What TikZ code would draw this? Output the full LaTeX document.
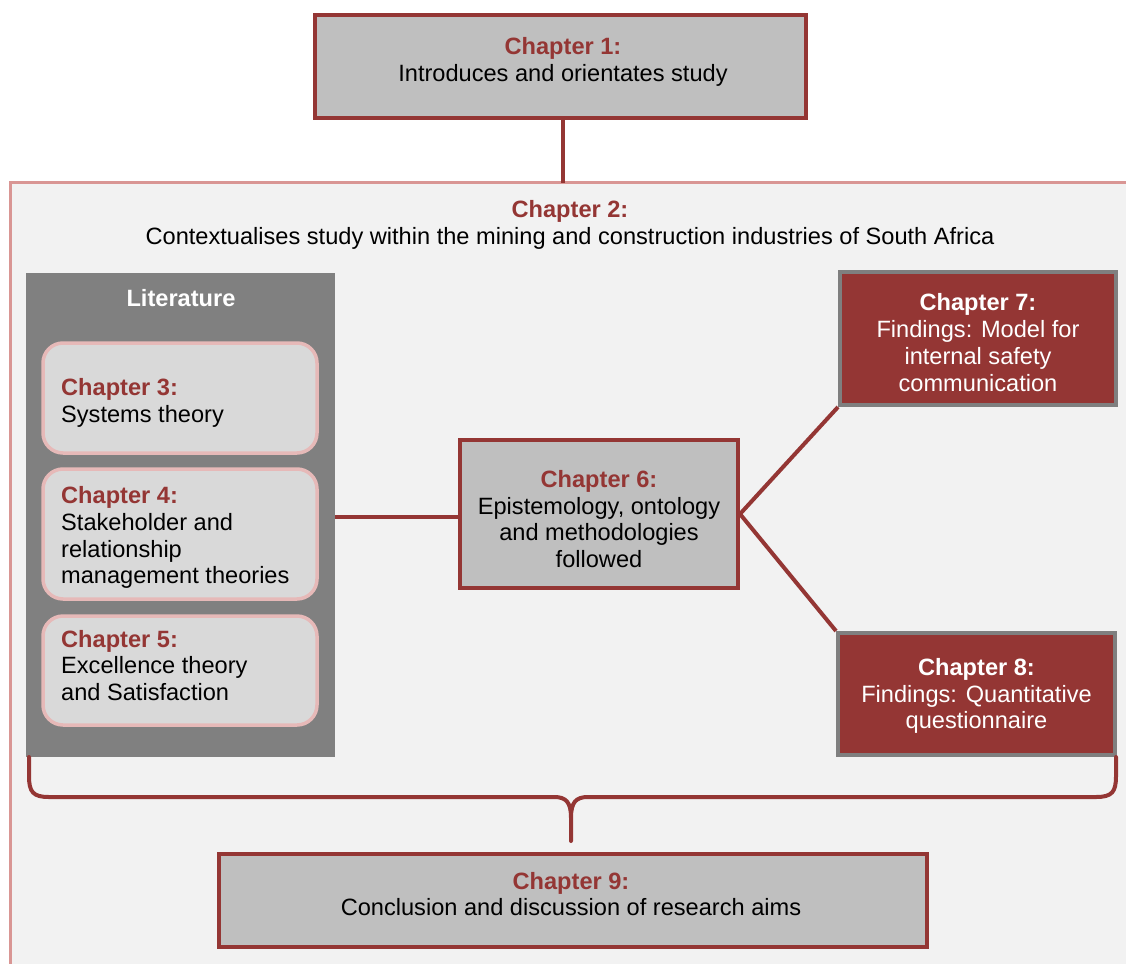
\documentclass[tikz,border=0pt]{standalone}
\usepackage{fontspec}
\setmainfont{Liberation Sans}
\begin{document}
\definecolor{chred}{HTML}{943634}
\definecolor{ctxpink}{HTML}{D99694}
\definecolor{litpink}{HTML}{E6B9B8}
\definecolor{boxgrey}{HTML}{BFBFBF}
\definecolor{lightgrey}{HTML}{D9D9D9}
\definecolor{ctxfill}{HTML}{F2F2F2}
\definecolor{litgrey}{HTML}{808080}
\definecolor{edgegrey}{HTML}{7F7F7F}
\begin{tikzpicture}[x=1pt,y=-1pt,
  every node/.style={font=\fontsize{23.6}{26.8}\selectfont, inner sep=0pt},
  greybox/.style={draw=chred, line width=4pt, fill=boxgrey},
  redbox/.style={draw=edgegrey, line width=4pt, fill=chred},
  litbox/.style={draw=litpink, line width=3.5pt, fill=lightgrey, rounded corners=20pt,
    minimum width=274pt},
  ctext/.style={align=center},
  ltext/.style={align=left, anchor=west},
  wtext/.style={align=center, text=white},
  link/.style={draw=chred, line width=4pt},
  head/.style={text=chred, font=\fontsize{23.6}{26.8}\selectfont\bfseries}
]
\useasboundingbox (0,0) rectangle (1126,963);
\fill[white] (0,0) rectangle (1126,963);

% context frame (chapter 2), running off the page
\begin{scope}
\clip (0,0) rectangle (1126,963);
\draw[draw=ctxpink, fill=ctxfill, line width=3pt] (10.5,182.5) rectangle (1140,980);
\end{scope}
\node[ctext] (c2) at (570,224.5)
  {{\color{chred}\bfseries Chapter 2:}\\Contextualises study within the mining and construction industries of South Africa};

% chapter 1
\node[greybox, minimum width=491pt, minimum height=103pt] (c1) at (560.5,66.5) {};
\node[ctext] (c1t) at (563,62) {{\color{chred}\bfseries Chapter 1:}\\Introduces and orientates study};
\coordinate (c2top) at (563,182.5);
\draw[link] (c2top |- c1.south) -- (c2top);

% literature column
\node[fill=litgrey, minimum width=309pt, minimum height=484pt] (lit) at (180.5,515) {};
\node[text=white, font=\fontsize{23.6}{26.8}\selectfont\bfseries] (littitle) at (181,298) {Literature};
\node[litbox, minimum height=110pt] (c3) at (180,398) {};
\node[ltext] (c3t) at (61,403) {{\color{chred}\bfseries Chapter 3:}\\Systems theory};
\node[litbox, minimum height=130pt] (c4) at (180,534) {};
\node[ltext] (c4t) at (61,537.5)
  {{\color{chred}\bfseries Chapter 4:}\\Stakeholder and\\relationship\\management theories};
\node[litbox, minimum height=109pt] (c5) at (180,670.5) {};
\node[ltext] (c5t) at (61,665.5)
  {{\color{chred}\bfseries Chapter 5:}\\Excellence theory\\and Satisfaction};

% chapter 6 and findings
\node[greybox, minimum width=278pt, minimum height=148pt] (c6) at (599,514) {};
\node[ctext] (c6t) at (599,519)
  {{\color{chred}\bfseries Chapter 6:}\\Epistemology, ontology\\and methodologies\\followed};
\node[redbox, minimum width=276pt, minimum height=133pt] (c7) at (978,338.5) {};
\node[wtext] (c7t) at (978,342.5)
  {{\bfseries Chapter 7:}\\Findings: Model for\\internal safety\\communication};
\node[redbox, minimum width=277pt, minimum height=122pt] (c8) at (976.5,694) {};
\node[wtext] (c8t) at (976.5,696)
  {{\bfseries Chapter 8:}\\Findings: Quantitative\\questionnaire};

\coordinate (litlink) at (400,517);
\draw[link] (lit.east |- litlink) -- (c6.west |- litlink);
\draw[link] (c6.east) -- (c7.south west);
\draw[link] (c6.east) -- (c8.north west);

% brace gathering the chapters
\coordinate (bl) at (29,757);
\coordinate (br) at (1116,757);
\coordinate (btip) at (571,841);
\draw[link, line cap=round, line join=round]
  (bl) -- (29,776) .. controls (29,792) and (33,797) .. (49,797)
  -- (554,797) .. controls (566,797) and (571,802) .. (571,818) -- (btip)
  (571,818) .. controls (571,802) and (576,797) .. (588,797)
  -- (1096,797) .. controls (1112,797) and (1116,792) .. (1116,776) -- (br);

% chapter 9
\node[greybox, minimum width=708pt, minimum height=93pt] (c9) at (573,900.5) {};
\node[ctext] (c9t) at (571,894)
  {{\color{chred}\bfseries Chapter 9:}\\Conclusion and discussion of research aims};
\end{tikzpicture}
\end{document}
